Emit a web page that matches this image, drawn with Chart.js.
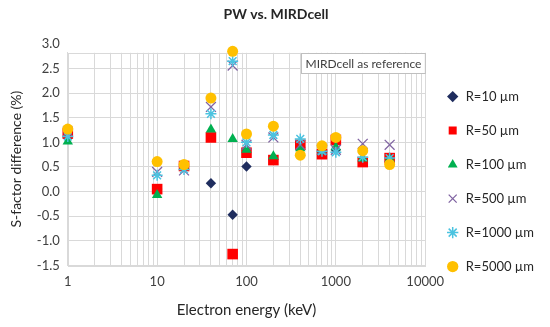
<!DOCTYPE html>
<html>
<head>
<meta charset="utf-8">
<script src="https://cdn.jsdelivr.net/npm/chart.js@4"></script>
<style>
  body { margin: 0; background: #fff; }
</style>
</head>
<body>
<canvas id="chart" width="550" height="327"></canvas>
<script>
// energies in keV, values are S-factor difference (%)
const energies = [1, 10, 20, 40, 70, 100, 200, 400, 700, 1000, 2000, 4000];

const r10   = [1.10,  0.05, 0.50, 0.17, -0.47, 0.51, 0.65, 0.90, 0.80, 0.85, 0.62, 0.68];
const r50   = [1.18,  0.05, 0.52, 1.10, -1.27, 0.79, 0.64, 0.95, 0.76, 1.05, 0.60, 0.68];
const r100  = [1.02, -0.07, 0.50, 1.26,  1.07, 0.85, 0.72, 0.88, 0.82, 0.90, 0.67, 0.66];
const r500  = [1.22,  0.40, 0.43, 1.72,  2.56, 0.95, 1.10, 0.95, 0.85, 0.85, 0.97, 0.95];
const r1000 = [1.12,  0.33, 0.45, 1.58,  2.65, 1.00, 1.15, 1.07, 0.82, 0.80, 0.70, 0.68];
const r5000 = [1.27,  0.61, 0.55, 1.90,  2.85, 1.17, 1.33, 0.74, 0.93, 1.10, 0.83, 0.55];

const yTicks = [-1.5, -1.0, -0.5, 0.0, 0.5, 1.0, 1.5, 2.0, 2.5, 3.0];
const xTicks = [1, 2, 3, 4, 5, 6, 7, 8, 9,
                10, 20, 30, 40, 50, 60, 70, 80, 90,
                100, 200, 300, 400, 500, 600, 700, 800, 900,
                1000, 2000, 3000, 4000, 5000, 6000, 7000, 8000, 9000, 10000];
const xLabels = [1, 10, 100, 1000, 10000];

const noteText = "MIRDcell as reference";
const gridColor = "#d9d9d9";
const textColor = "#404040";
const fontFamily = "Lato, 'Open Sans', sans-serif";

function toPoints(values) {
  return energies.map((e, i) => ({ x: e, y: values[i] }));
}

function series(label, values, style, color, radius, borderWidth) {
  return {
    label: label,
    data: toPoints(values),
    pointStyle: style,
    pointRadius: radius,
    pointHoverRadius: radius,
    backgroundColor: color,
    borderColor: color,
    borderWidth: borderWidth,
    clip: false
  };
}

// Excel draws later series on top, Chart.js draws the first one on top,
// so the list goes in reverse and the legend flips it back
const datasets = [
  series("R=5000 µm", r5000, "circle", "#ffc000", 5.5, 0),
  series("R=1000 µm", r1000, "star", "#4bc3e0", 5.5, 1.5),
  series("R=500 µm", r500, "crossRot", "#8064a2", 7, 1.3),
  series("R=100 µm", r100, "triangle", "#00b050", 6, 0),
  series("R=50 µm", r50, "rect", "#ff0000", 7.5, 0),
  series("R=10 µm", r10, "rectRot", "#1f2d5e", 5.2, 0)
];

// frame round the plot area and the note box in its top right corner
const plotFrame = {
  id: "plotFrame",
  beforeDatasetsDraw(chart) {
    const a = chart.chartArea;
    const ctx = chart.ctx;
    ctx.save();
    ctx.strokeStyle = gridColor;
    ctx.lineWidth = 1;
    ctx.strokeRect(Math.round(a.left) + 0.5, Math.round(a.top) + 0.5,
      Math.round(a.right - a.left), Math.round(a.bottom - a.top));

    ctx.font = "12px " + fontFamily;
    const w = ctx.measureText(noteText).width + 8;
    const h = 20;
    const x = Math.round(a.right - w) + 0.5;
    const y = Math.round(a.top) + 0.5;
    ctx.fillStyle = "#fff";
    ctx.fillRect(x, y, w, h);
    ctx.strokeStyle = "#bfbfbf";
    ctx.strokeRect(x, y, w, h);
    ctx.fillStyle = textColor;
    ctx.textBaseline = "middle";
    ctx.fillText(noteText, x + 4, y + h / 2 + 1);
    ctx.restore();
  }
};

new Chart(document.getElementById("chart"), {
  type: "scatter",
  data: { datasets: datasets },
  plugins: [plotFrame],
  options: {
    responsive: false,
    animation: false,
    layout: { padding: { left: 8, right: 6, top: 0, bottom: 8 } },
    plugins: {
      title: {
        display: true,
        text: "PW vs. MIRDcell",
        color: "#262626",
        font: { family: fontFamily, size: 14, weight: "bold" },
        padding: { top: 6, bottom: 30 }
      },
      legend: {
        position: "right",
        reverse: true,
        // empty title only pushes the legend rows down a little
        title: {
          display: true,
          text: "",
          font: { size: 1 },
          padding: { top: 43, bottom: 0 }
        },
        labels: {
          usePointStyle: true,
          boxHeight: 8,
          padding: 21,
          color: "#262626",
          font: { family: fontFamily, size: 13 }
        }
      },
      tooltip: { enabled: false }
    },
    scales: {
      x: {
        type: "logarithmic",
        min: 1,
        max: 10000,
        afterBuildTicks: scale => {
          scale.ticks = xTicks.map(v => ({ value: v, major: xLabels.includes(v) }));
        },
        ticks: {
          autoSkip: false,
          maxRotation: 0,
          padding: 9,
          color: textColor,
          font: { family: fontFamily, size: 13 },
          callback: value => xLabels.includes(value) ? String(value) : ""
        },
        grid: { color: gridColor, drawTicks: false },
        border: { color: gridColor },
        title: {
          display: true,
          text: "Electron energy (keV)",
          color: "#262626",
          font: { family: fontFamily, size: 15 },
          padding: { top: 2, bottom: 0 }
        }
      },
      y: {
        min: -1.5,
        max: 2.82,
        afterBuildTicks: scale => {
          scale.ticks = yTicks.map(v => ({ value: v }));
        },
        ticks: {
          padding: 8,
          color: textColor,
          font: { family: fontFamily, size: 13 },
          callback: value => value.toFixed(1)
        },
        grid: {
          drawTicks: false,
          color: ctx => (ctx.tick && ctx.tick.value > 2.82) ? "rgba(0,0,0,0)" : gridColor
        },
        border: { color: gridColor },
        title: {
          display: true,
          text: "S-factor difference (%)",
          color: "#262626",
          font: { family: fontFamily, size: 14 },
          padding: { top: 0, bottom: 4 }
        }
      }
    }
  }
});
</script>
</body>
</html>
